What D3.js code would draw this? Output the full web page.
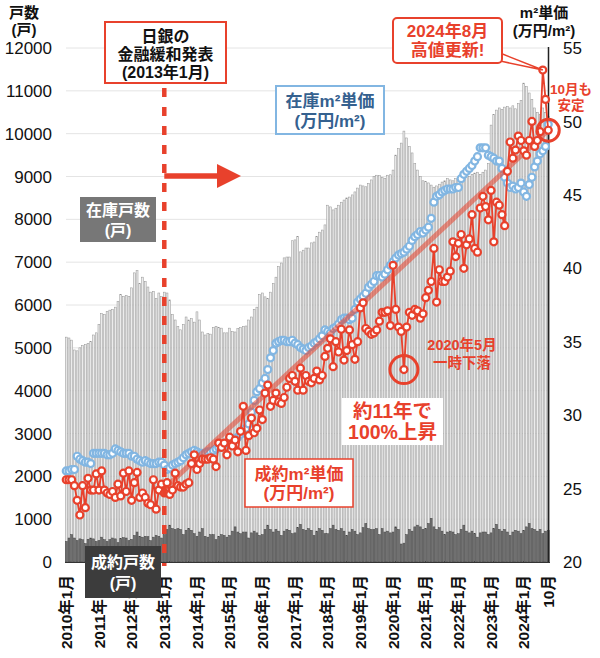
<!DOCTYPE html>
<html>
<head>
<meta charset="utf-8">
<script src="https://cdn.jsdelivr.net/npm/d3@7"></script>
<style>
  body { margin: 0; background: #fff; }
  svg text { font-family: "Liberation Sans", "Noto Sans CJK JP", sans-serif; }
</style>
</head>
<body>
<div id="chart"></div>
<script>
// monthly categories, 2010-01 .. 2024-10
const months = d3.range(178).map(i => `${2010 + Math.floor(i / 12)}-${(i % 12) + 1}`);

const tickIndex = [0, 12, 24, 36, 48, 60, 72, 84, 96, 108, 120, 132, 144, 156, 168, 177];
const tickLabels = ['2010年1月', '2011年1月', '2012年1月', '2013年1月', '2014年1月', '2015年1月',
  '2016年1月', '2017年1月', '2018年1月', '2019年1月', '2020年1月', '2021年1月', '2022年1月',
  '2023年1月', '2024年1月', '10月'];

// 在庫戸数 (戸)
const inventory = [
  5250, 5230, 5180, 4950, 4930, 5000, 5050, 5080, 5100, 5150, 5300, 5350,
  5550, 5800, 5780, 5850, 5880, 5900, 5950, 6080, 6250, 6200, 6220, 6200,
  6400, 6750, 6800, 6500, 6650, 6550, 6420, 6300, 6320, 6150, 6280, 6200,
  6300, 6280, 6120, 5780, 5650, 5500, 5420, 5550, 5720, 5650, 5680, 5600,
  5840, 5650, 5370, 5300, 5330, 5320, 5480, 5500, 5480, 5460, 5350, 5350,
  5460, 5380, 5370, 5450, 5470, 5500, 5510, 5650, 5720, 5900, 5950, 6250,
  6280, 6190, 6150, 6300, 6500, 6650, 6900, 6980, 7100, 7120, 7120, 7500,
  7520, 7600, 7240, 7280, 7330, 7330, 7450, 7470, 7600, 7700, 7750, 7870,
  8330, 8290, 8220, 8260, 8330, 8400, 8450, 8500, 8520, 8570, 8640, 8730,
  8800, 8780, 8760, 8840, 8920, 9000, 9030, 9020, 8980, 8960, 9030, 9040,
  9150, 9500, 9650, 9780, 10060, 9900, 9700, 9550, 9300, 9150, 9000, 8900,
  8880, 8850, 8800, 8750, 8780, 8820, 8870, 8900, 8950, 8920, 8900, 8950,
  8950, 9000, 9020, 8980, 9000, 9050, 9080, 9100, 9050, 9100, 9150, 9300,
  10200, 10450, 10550, 10600, 10560, 10620, 10630, 10600, 10650, 10580, 10700, 10780,
  11180, 11100, 10950, 10800, 10600, 10500, 10450, 10600, 10500, 10400
];

// 成約戸数 (戸)
const contracts = [
  480, 560, 640, 560, 500, 540, 520, 430, 530, 560, 540, 480,
  500, 580, 520, 480, 520, 560, 540, 450, 550, 570, 560, 500,
  530, 620, 700, 600, 580, 600, 590, 500, 580, 620, 600, 560,
  640, 760, 860, 780, 760, 780, 760, 640, 740, 780, 740, 660,
  600, 700, 780, 600, 580, 640, 640, 520, 600, 640, 620, 580,
  620, 720, 820, 700, 660, 700, 700, 560, 680, 720, 680, 620,
  640, 760, 860, 760, 700, 760, 720, 620, 720, 760, 740, 660,
  680, 800, 880, 760, 740, 780, 740, 620, 720, 780, 740, 660,
  660, 780, 860, 760, 740, 780, 720, 620, 700, 760, 720, 640,
  680, 800, 900, 780, 760, 760, 780, 640, 780, 700, 720, 680,
  700, 820, 760, 420, 440, 640, 760, 720, 820, 860, 820, 760,
  780, 900, 1020, 820, 760, 800, 720, 640, 700, 720, 700, 640,
  660, 760, 860, 720, 680, 720, 660, 580, 680, 700, 700, 640,
  680, 780, 880, 760, 720, 760, 700, 620, 700, 740, 720, 660,
  740, 820, 900, 780, 760, 720, 760, 660, 720, 740
];

// 成約m2単価 (万円/m2)
const soldPrice = [
  25.6, 25.6, 25.6, 25.2, 24.2, 23.2, 25.2, 23.7, 25.7, 24.9, 24.9, 26.0,
  24.9, 26.2, 24.9, 24.7, 24.6, 24.8, 24.4, 25.3, 24.5, 26.05, 24.8, 26.2,
  24.2, 25.4, 26.1, 24.4, 24.7, 24.4, 24.0, 23.9, 25.6, 23.6, 24.9, 25.3,
  24.7, 25.4, 24.6, 24.9, 26.05, 25.2, 25.1, 25.1, 25.3, 25.4, 26.7, 27.3,
  26.3, 26.7, 27.0, 27.0, 27.0, 27.1, 27.0, 26.5, 28.1, 27.8, 28.1, 27.3,
  28.5, 27.9, 28.3, 27.5, 28.9, 30.6, 27.6, 28.6, 29.8, 28.8, 29.1, 30.35,
  29.7, 31.5, 32.05, 30.6, 31.0, 31.5, 30.9, 30.8, 31.2, 31.9, 32.5, 32.7,
  32.3, 31.7, 33.2, 31.7, 32.7, 32.3, 32.2, 32.5, 33.0, 32.4, 32.7, 34.0,
  34.55, 35.2, 33.3, 35.0, 34.3, 35.85, 33.75, 34.4, 35.8, 34.8, 33.8, 35.0,
  37.3, 37.65, 35.9, 35.7, 35.5, 35.6, 35.8, 36.4, 37.0, 37.0, 37.1, 36.1,
  40.2, 37.2, 36.0, 35.7, 33.1, 36.0, 37.0, 36.8, 37.2, 37.1, 36.6, 36.9,
  38.0, 38.5, 39.1, 41.35, 37.7, 39.9, 39.1, 39.1, 39.4, 39.8, 41.8, 40.8,
  41.7, 42.3, 40.0, 41.6, 42.0, 43.65, 41.35, 41.1, 44.1, 44.9, 44.2, 43.3,
  45.3, 41.8, 44.5, 44.3, 43.65, 42.9, 46.6, 48.6, 47.5, 48.05, 49.0, 48.7,
  48.0, 47.7, 48.7, 50.0, 48.3, 48.7, 49.3, 53.5, 51.5, 49.4
];

// 在庫m2単価 (万円/m2)
const stockPrice = [
  26.2, 26.2, 26.3, 26.3, 27.2, 27.0, 26.9, 26.8, 26.8, 26.7, 27.4, 27.4,
  27.4, 27.4, 27.4, 27.3, 27.3, 27.4, 27.7, 27.6, 27.5, 27.4, 27.4, 27.4,
  27.2, 27.2, 27.0, 26.9, 26.8, 26.9, 26.8, 26.7, 26.7, 26.7, 26.8, 26.8,
  26.6, 26.3, 26.4, 26.6, 26.7, 26.8, 26.9, 27.1, 27.3, 27.4, 27.5, 27.6,
  27.5, 27.4, 27.4, 27.4, 27.5, 27.5, 27.6, 27.7, 27.8, 27.9, 28.0, 28.1,
  28.2, 28.3, 28.4, 28.5, 28.7, 28.9, 29.1, 29.4, 30.2, 31.0, 31.6, 31.8,
  32.2, 32.5, 33.1, 33.9, 34.4, 34.9, 35.0, 35.1, 35.1, 35.0, 35.0, 35.1,
  34.9, 34.8, 34.6, 34.5, 34.4, 34.6, 34.7, 34.9, 35.0, 35.2, 35.4, 35.8,
  35.7, 35.6, 35.9, 36.0, 36.2, 36.5, 36.6, 36.6, 36.5, 36.6, 37.2, 37.7,
  37.9, 38.1, 38.3, 38.7, 38.9, 39.1, 39.5, 39.5, 39.4, 39.6, 39.9, 40.2,
  40.45, 40.7, 40.9, 41.0, 41.1, 41.3, 41.5, 41.9, 42.15, 42.3, 42.5, 42.4,
  42.6, 42.8, 43.4, 44.5, 44.9, 45.0, 45.2, 45.3, 45.4, 45.4, 45.4, 45.5,
  45.5, 46.1, 46.4, 46.6, 46.8, 47.0, 47.3, 47.6, 48.2, 48.2, 48.2, 47.7,
  47.6, 47.5, 47.3, 47.3, 46.8, 46.2, 45.8, 45.5, 45.6, 45.4, 45.5, 45.8,
  45.2, 44.9, 45.7, 46.2, 46.9, 47.3, 47.8, 48.0, 48.3, 49.8
];

// trend line for 成約m2単価: 2013年1月 -> 2024年10月
const trendIndex = [36, 177];
const trendValue = [25.0, 49.4];

const RED = '#e8412c';
const BLUE = '#82b6e2';

const width = 600, height = 658;
const svg = d3.select('#chart').append('svg')
  .attr('width', width)
  .attr('height', height);

const x = d3.scaleBand()
  .domain(d3.range(months.length))
  .range([65.3, 549.2])
  .paddingInner(0.3);
const cx = i => x(i) + x.bandwidth() / 2;

const yL = d3.scaleLinear().domain([0, 12000]).range([562, 48]);
const yR = d3.scaleLinear().domain([20, 55]).range([562, 48]);

// gridlines
svg.append('g')
  .selectAll('line')
  .data(yL.ticks(12))
  .join('line')
  .attr('x1', 66).attr('x2', 548)
  .attr('y1', d => yL(d)).attr('y2', d => yL(d))
  .attr('stroke', '#e4e4e4')
  .attr('stroke-width', 1);

// 在庫戸数 bars
svg.append('g')
  .selectAll('rect')
  .data(inventory)
  .join('rect')
  .attr('x', (d, i) => x(i))
  .attr('y', d => yL(d))
  .attr('width', x.bandwidth())
  .attr('height', d => yL(0) - yL(d))
  .attr('fill', '#ececec')
  .attr('stroke', '#939393')
  .attr('stroke-width', 0.5);

// 成約戸数 bars
svg.append('g')
  .selectAll('rect')
  .data(contracts)
  .join('rect')
  .attr('x', (d, i) => x(i))
  .attr('y', d => yL(d))
  .attr('width', x.bandwidth())
  .attr('height', d => yL(0) - yL(d))
  .attr('fill', '#707070')
  .attr('stroke', '#444')
  .attr('stroke-width', 0.5);

// baseline and right axis line
svg.append('line')
  .attr('x1', 65).attr('x2', 550)
  .attr('y1', 562.5).attr('y2', 562.5)
  .attr('stroke', '#333').attr('stroke-width', 1.2);
svg.append('line')
  .attr('x1', 548.5).attr('x2', 548.5)
  .attr('y1', 47).attr('y2', 562)
  .attr('stroke', '#222').attr('stroke-width', 1.5);

// left ticks
svg.append('g')
  .selectAll('text')
  .data(yL.ticks(12))
  .join('text')
  .attr('x', 52)
  .attr('y', d => yL(d))
  .attr('dy', '0.36em')
  .attr('text-anchor', 'end')
  .style('font-size', '17px')
  .attr('fill', '#111')
  .text(d => d);

// right ticks
svg.append('g')
  .selectAll('text')
  .data(yR.ticks(7))
  .join('text')
  .attr('x', 563)
  .attr('y', d => yR(d))
  .attr('dy', '0.36em')
  .attr('text-anchor', 'start')
  .style('font-size', '17px')
  .attr('fill', '#111')
  .text(d => d);

// multi-line centered text
function lines(g, xPos, yList, texts, size, color, weight) {
  texts.forEach((t, k) => {
    g.append('text')
      .attr('x', xPos)
      .attr('y', yList[k])
      .attr('dy', '0.36em')
      .attr('text-anchor', 'middle')
      .style('font-size', size + 'px')
      .style('font-weight', weight || 'bold')
      .attr('fill', color)
      .text(t);
  });
}
lines(svg, 24, [13, 30], ['戸数', '(戸)'], 15, '#111');
lines(svg, 544, [13, 31], ['m²単価', '(万円/m²)'], 15, '#111');

// x labels
svg.append('g')
  .selectAll('text')
  .data(tickIndex)
  .join('text')
  .attr('transform', d => `translate(${cx(d)},575) rotate(-90)`)
  .attr('dy', '0.36em')
  .attr('text-anchor', 'end')
  .style('font-size', '15.5px')
  .style('font-weight', 'bold')
  .attr('fill', '#111')
  .text((d, k) => tickLabels[k]);

// 在庫m2単価 points
svg.append('g')
  .selectAll('circle')
  .data(stockPrice)
  .join('circle')
  .attr('cx', (d, i) => cx(i))
  .attr('cy', d => yR(d))
  .attr('r', 3.5)
  .attr('fill', '#fff')
  .attr('stroke', BLUE)
  .attr('stroke-width', 2.2);

// trend
svg.append('line')
  .attr('x1', cx(trendIndex[0])).attr('y1', yR(trendValue[0]))
  .attr('x2', cx(trendIndex[1])).attr('y2', yR(trendValue[1]))
  .attr('stroke', RED)
  .attr('stroke-opacity', 0.55)
  .attr('stroke-width', 5);

// 成約m2単価 line + points
const line = d3.line()
  .x((d, i) => cx(i))
  .y(d => yR(d));
svg.append('path')
  .datum(soldPrice)
  .attr('fill', 'none')
  .attr('stroke', RED)
  .attr('stroke-width', 1.8)
  .attr('d', line);
svg.append('g')
  .selectAll('circle')
  .data(soldPrice)
  .join('circle')
  .attr('cx', (d, i) => cx(i))
  .attr('cy', d => yR(d))
  .attr('r', 3.5)
  .attr('fill', '#fff')
  .attr('stroke', RED)
  .attr('stroke-width', 2.2);

// 2013年1月 dashed line + arrow
svg.append('line')
  .attr('x1', cx(36)).attr('x2', cx(36))
  .attr('y1', 88).attr('y2', 566)
  .attr('stroke', RED)
  .attr('stroke-width', 4.5)
  .attr('stroke-dasharray', '9,10');
svg.append('line')
  .attr('x1', cx(36)).attr('x2', 220)
  .attr('y1', 176).attr('y2', 176)
  .attr('stroke', RED).attr('stroke-width', 5.5);
svg.append('path')
  .attr('d', 'M217,164 L241,176 L217,188 Z')
  .attr('fill', RED);

// circles on 2020年5月 and 2024年10月
const dipIdx = 124, lastIdx = soldPrice.length - 1, peakIdx = 175;
svg.append('circle')
  .attr('cx', cx(dipIdx)).attr('cy', yR(soldPrice[dipIdx]))
  .attr('r', 14).attr('fill', 'none')
  .attr('stroke', RED).attr('stroke-width', 3);
svg.append('circle')
  .attr('cx', cx(lastIdx)).attr('cy', yR(soldPrice[lastIdx]))
  .attr('r', 11).attr('fill', 'none')
  .attr('stroke', RED).attr('stroke-width', 3);

// boxes
function box(x0, y0, w, h, opts) {
  const g = svg.append('g');
  g.append('rect')
    .attr('x', x0).attr('y', y0)
    .attr('width', w).attr('height', h)
    .attr('rx', opts.rx || 0)
    .attr('fill', opts.fill || '#fff')
    .attr('stroke', opts.stroke || 'none')
    .attr('stroke-width', opts.sw || 2);
  lines(g, x0 + w / 2, opts.ys, opts.texts, opts.size, opts.color);
  return g;
}

box(105, 22, 121, 61, {
  stroke: RED, sw: 2, ys: [36, 54, 72],
  texts: ['日銀の', '金融緩和発表', '(2013年1月)'], size: 16, color: '#111'
});
box(80, 197, 76, 45, {
  fill: '#777', ys: [210.5, 230], texts: ['在庫戸数', '(戸)'], size: 16, color: '#fff'
});
box(85, 546, 76, 52, {
  fill: '#3c3c3c', ys: [562, 583], texts: ['成約戸数', '(戸)'], size: 16, color: '#fff'
});
box(276, 86, 108, 48, {
  stroke: BLUE, sw: 2, ys: [100.5, 120.5], texts: ['在庫m²単価', '(万円/m²)'], size: 17, color: '#35618f'
});
box(245, 459, 108, 48, {
  stroke: RED, sw: 1.5, ys: [473.5, 492.5], texts: ['成約m²単価', '(万円/m²)'], size: 17, color: RED
});
box(342, 398, 101, 47, {
  ys: [410.5, 432], texts: ['約11年で', '100%上昇'], size: 19.5, color: RED
});

// 2024年8月 callout with tail
svg.append('path')
  .attr('d', `M500,53 L${cx(peakIdx)},${yR(soldPrice[peakIdx])} L500,61 Z`)
  .attr('fill', '#fff')
  .attr('stroke', RED)
  .attr('stroke-width', 1.5);
box(393, 18, 109, 45, {
  stroke: RED, sw: 2, rx: 4, ys: [31, 50], texts: ['2024年8月', '高値更新!'], size: 17, color: RED
});

lines(svg, 462, [345, 363], ['2020年5月', '一時下落'], 14.5, RED);
lines(svg, 571, [89, 105], ['10月も', '安定'], 13.5, RED);
</script>
</body>
</html>
